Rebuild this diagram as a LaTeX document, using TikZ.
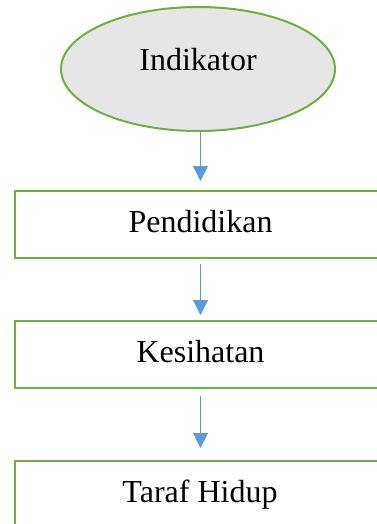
\documentclass[tikz,border=0pt]{standalone}
\usepackage{fontspec}
\setmainfont{Liberation Serif}
\usetikzlibrary{shapes.geometric,arrows.meta}
\definecolor{bordergreen}{HTML}{70AD47}
\definecolor{ellfill}{HTML}{E7E6E6}
\definecolor{arrowblue}{HTML}{5B9BD5}
\begin{document}
\begin{tikzpicture}[x=1pt,y=1pt,
  every node/.style={font=\fontsize{32}{38}\selectfont},
  startell/.style={ellipse, draw=bordergreen, line width=2pt, fill=ellfill,
    minimum width=274pt, minimum height=124pt, inner sep=0pt,
    text height=22pt, text depth=18pt},
  flowbox/.style={rectangle, draw=bordergreen, line width=2pt, fill=white,
    minimum width=371pt, minimum height=67pt, inner sep=0pt,
    text height=22pt, text depth=7pt},
  flowarrow/.style={draw=arrowblue, line width=1pt,
    -{Triangle[length=15pt,width=15pt,fill=arrowblue]}}]
\useasboundingbox (0,0) rectangle (376,-524);
\node[startell] (ind) at (198,-69) {Indikator};
\node[flowbox] (pen) at (200.5,-224.5) {Pendidikan};
\node[flowbox] (kes) at (200.5,-354.5) {Kesihatan};
\node[flowbox] (taraf) at (200,-494.5) {Taraf Hidup};
\draw[flowarrow, shorten >=9pt] (pen.north |- ind.south) -- (pen.north);
\draw[flowarrow, shorten <=5pt, shorten >=5pt] (pen.south) -- (kes.north);
\draw[flowarrow, shorten <=7pt, shorten >=12pt] (kes.south) -- (kes.south |- taraf.north);
\end{tikzpicture}
\end{document}
